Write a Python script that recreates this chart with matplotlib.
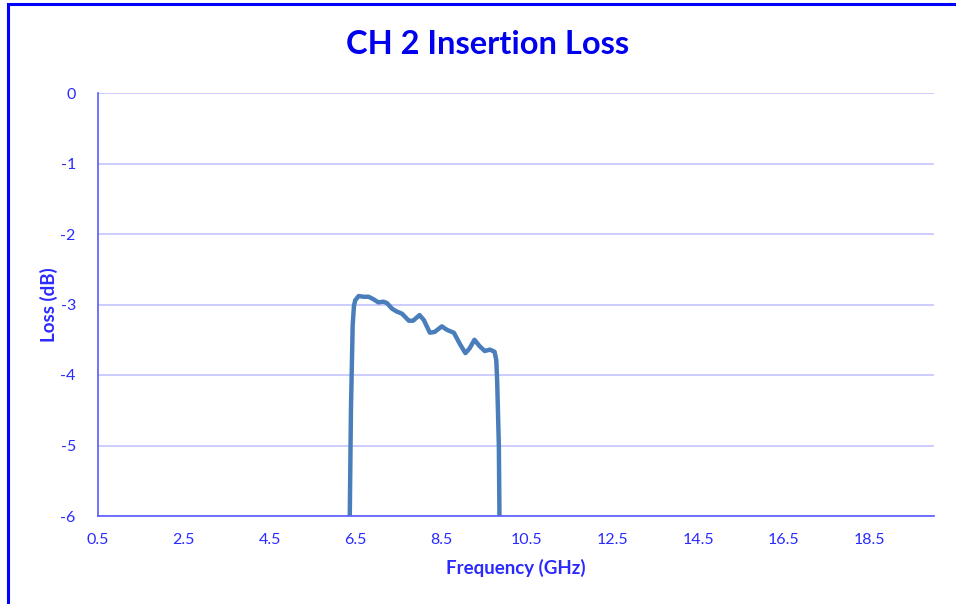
import matplotlib
matplotlib.use("Agg")
import matplotlib.pyplot as plt
from matplotlib.patches import Rectangle

plt.rcParams['font.family'] = ['Lato', 'DejaVu Sans']

freq_ghz = [6.30, 6.40, 6.44, 6.47, 6.50, 6.58, 6.69, 6.81, 6.91, 7.04, 7.16, 7.24,
            7.36, 7.47, 7.59, 7.75, 7.85, 8.00, 8.10, 8.24, 8.35, 8.52, 8.64,
            8.80, 8.95, 9.07, 9.17, 9.28, 9.40, 9.52, 9.64, 9.75, 9.79, 9.81,
            9.85, 9.92]
loss_db = [-10.0, -4.5, -3.3, -3.02, -2.94, -2.88, -2.89, -2.89, -2.92, -2.97, -2.96, -2.98,
           -3.06, -3.10, -3.13, -3.23, -3.23, -3.15, -3.22, -3.40, -3.39, -3.31, -3.36,
           -3.40, -3.57, -3.69, -3.62, -3.50, -3.59, -3.66, -3.64, -3.67, -3.79, -4.07,
           -5.0, -10.0]

x_ticks = [0.5, 2.5, 4.5, 6.5, 8.5, 10.5, 12.5, 14.5, 16.5, 18.5]
y_ticks = [0, -1, -2, -3, -4, -5, -6]

title_color = '#0000ee'
text_color = '#2a2aff'

fig = plt.figure(figsize=(9.56, 6.04), dpi=100)
fig.patches.append(Rectangle((7.5 / 956, -0.1), 1.2, 1.1 - 4.5 / 604,
                             transform=fig.transFigure, fill=False,
                             edgecolor='#0000ff', linewidth=2.2))

ax = fig.add_axes([98 / 956, 1 - 516 / 604, (934 - 98) / 956, (516 - 93) / 604])
ax.plot(freq_ghz, loss_db, color='#4a7ebb', linewidth=3.2, solid_joinstyle='round',
        solid_capstyle='round', clip_on=True)
ax.set_xlim(0.5, 20.0)
ax.set_ylim(-6, 0)
ax.set_xticks(x_ticks)
ax.set_xticklabels([f"{v}" for v in x_ticks])
ax.set_yticks(y_ticks)
ax.set_yticklabels([f"{v}" for v in y_ticks])
ax.grid(axis='y', color='#c4c4ff', linewidth=1.2)
ax.set_axisbelow(True)
for s in ['top', 'right']:
    ax.spines[s].set_visible(False)
for s in ['left', 'bottom']:
    ax.spines[s].set_color('#5a5aff')
    ax.spines[s].set_linewidth(1.2)
ax.tick_params(length=0, colors=text_color, labelsize=11.5, pad=12)
ax.tick_params(axis='y', pad=16)

ax.set_xlabel('Frequency (GHz)', color=text_color, fontsize=13.5, fontweight='bold', labelpad=9)
ax.set_ylabel('Loss (dB)', color=text_color, fontsize=13.5, fontweight='bold', labelpad=2)
fig.text(488 / 956, 1 - 45 / 604, 'CH 2 Insertion Loss', color=title_color,
         fontsize=23.5, fontweight='bold', ha='center', va='center')

fig.savefig('out.png', dpi=100)
